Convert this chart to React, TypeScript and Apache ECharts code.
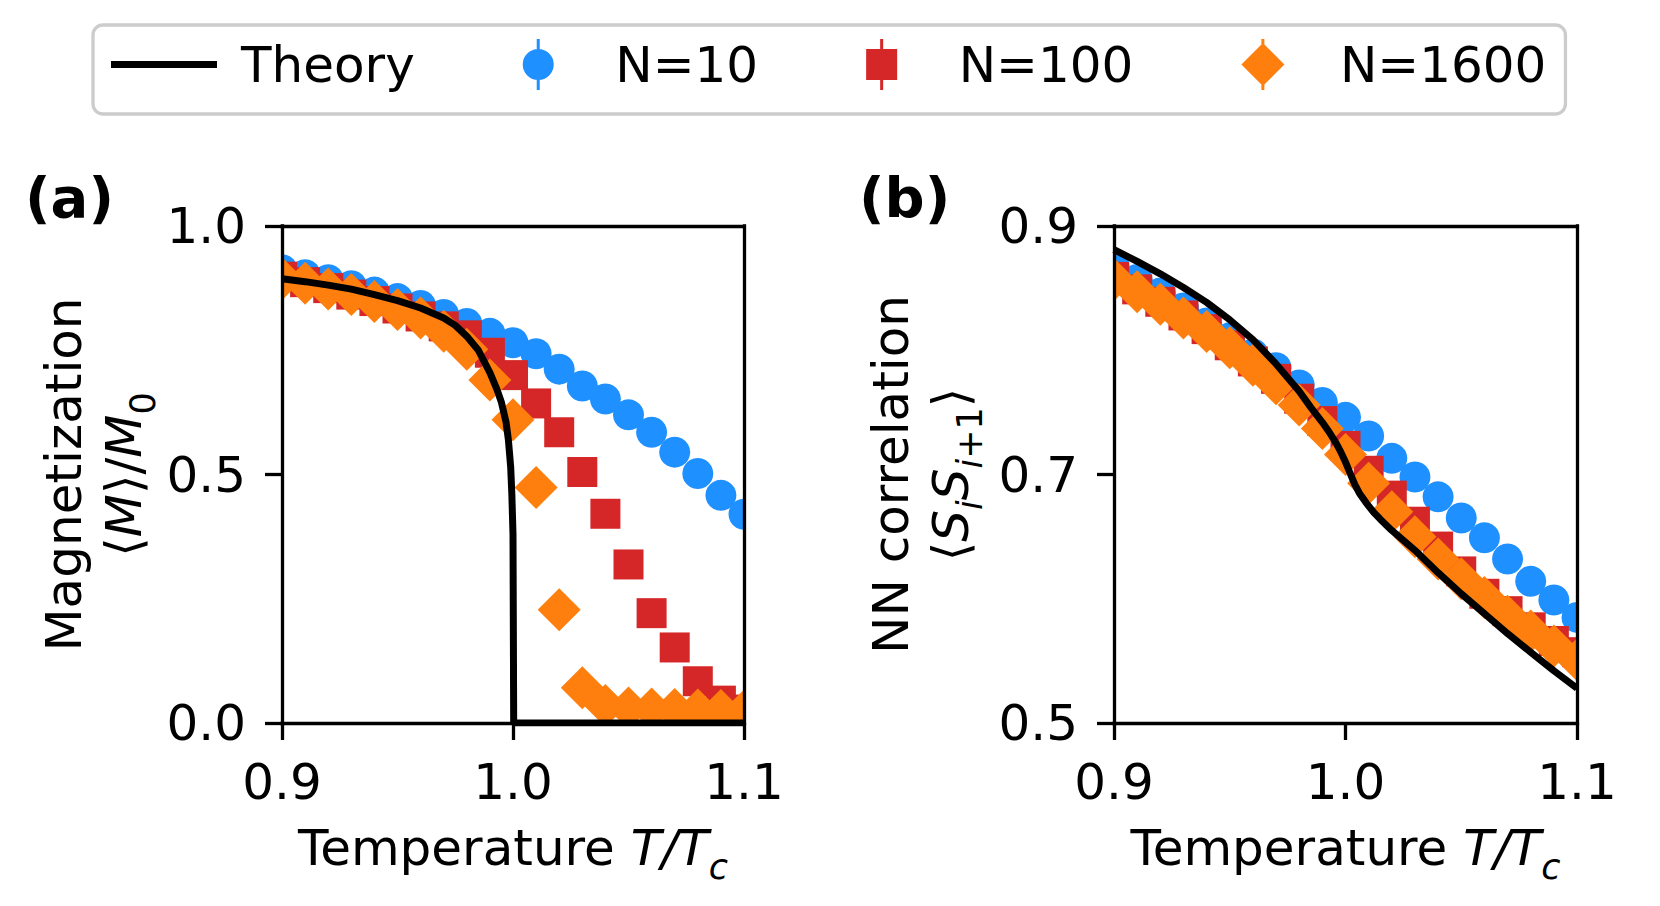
import React, { useEffect, useRef } from 'react';
import * as echarts from 'echarts';

// ---------------- data ----------------
const temps = [0.90, 0.91, 0.92, 0.93, 0.94, 0.95, 0.96, 0.97, 0.98, 0.99, 1.00, 1.01, 1.02, 1.03, 1.04, 1.05, 1.06, 1.07, 1.08, 1.09, 1.10];

// (a) magnetization <M>/M0
const magN10 = [0.912, 0.902, 0.892, 0.880, 0.867, 0.854, 0.840, 0.822, 0.804, 0.784, 0.765, 0.743, 0.712, 0.678, 0.652, 0.620, 0.585, 0.545, 0.502, 0.458, 0.420];
const magN100 = [0.898, 0.887, 0.875, 0.862, 0.849, 0.834, 0.818, 0.798, 0.780, 0.745, 0.700, 0.643, 0.585, 0.505, 0.421, 0.319, 0.221, 0.152, 0.084, 0.045, 0.027];
const magN1600 = [0.894, 0.885, 0.873, 0.862, 0.848, 0.832, 0.815, 0.788, 0.752, 0.690, 0.610, 0.474, 0.228, 0.071, 0.035, 0.030, 0.028, 0.027, 0.026, 0.025, 0.024];
const magTheoryT = [0.900, 0.910, 0.920, 0.930, 0.940, 0.950, 0.960, 0.970, 0.975, 0.980, 0.985, 0.990, 0.993, 0.995, 0.997, 0.998, 0.999, 0.9995, 1.000, 1.0003, 1.100];
const magTheoryV = [0.894, 0.888, 0.881, 0.873, 0.862, 0.850, 0.835, 0.815, 0.800, 0.778, 0.750, 0.705, 0.672, 0.645, 0.605, 0.570, 0.515, 0.460, 0.380, 0.000, 0.000];

// (b) nearest-neighbour correlation <S_i S_i+1>
const corrN10 = [0.868, 0.857, 0.846, 0.834, 0.822, 0.810, 0.797, 0.786, 0.772, 0.758, 0.746, 0.731, 0.713, 0.698, 0.682, 0.665, 0.649, 0.632, 0.614, 0.599, 0.585];
const corrN100 = [0.859, 0.849, 0.839, 0.828, 0.817, 0.804, 0.791, 0.777, 0.761, 0.743, 0.723, 0.703, 0.683, 0.662, 0.642, 0.622, 0.604, 0.590, 0.577, 0.566, 0.557];
const corrN1600 = [0.857, 0.847, 0.837, 0.826, 0.815, 0.802, 0.788, 0.773, 0.756, 0.737, 0.716, 0.693, 0.670, 0.650, 0.632, 0.616, 0.601, 0.586, 0.574, 0.562, 0.551];
const corrTheoryT = [0.900, 0.910, 0.920, 0.930, 0.940, 0.950, 0.960, 0.970, 0.980, 0.985, 0.990, 0.993, 0.996, 0.998, 1.000, 1.002, 1.004, 1.006, 1.009, 1.012, 1.015, 1.020, 1.030, 1.040, 1.050, 1.060, 1.070, 1.080, 1.090, 1.100];
const corrTheoryV = [0.881, 0.8715, 0.8615, 0.8505, 0.8385, 0.8245, 0.8085, 0.789, 0.767, 0.754, 0.742, 0.734, 0.725, 0.718, 0.710, 0.701, 0.692, 0.685, 0.677, 0.670, 0.664, 0.655, 0.639, 0.621, 0.604, 0.588, 0.572, 0.557, 0.542, 0.528];

// ticks
const tempTicks = [0.9, 1.0, 1.1];
const magTicks = [0.0, 0.5, 1.0];
const corrTicks = [0.5, 0.7, 0.9];

const seriesNames = ['Theory', 'N=10', 'N=100', 'N=1600'];

// ---------------- styling ----------------
const FONT = 'DejaVu Sans';
const BLUE = '#1e90ff';
const RED = '#d62728';
const ORANGE = '#ff7f0e';
const SPINE = 3.3;

const ICON_LINE = 'path://M0,0L106,0L106,7L0,7Z';
const ICON_CIRCLE = 'path://M14,0L17,0L17,51L14,51Z M0,25.5A15.5,15.5 0 1 1 31,25.5A15.5,15.5 0 1 1 0,25.5Z';
const ICON_SQUARE = 'path://M14,0L17,0L17,10L31,10L31,41L17,41L17,51L14,51L14,41L0,41L0,10L14,10Z';
const ICON_DIAMOND = 'path://M20,0L23,0L23,51L20,51Z M21.5,4L43,25.5L21.5,47L0,25.5Z';

const richStyles = {
  it: { fontFamily: FONT, fontSize: 50, fontStyle: 'italic', lineHeight: 60, color: '#000' },
  up: { fontFamily: FONT, fontSize: 50, lineHeight: 60, color: '#000' },
  sub: { fontFamily: FONT, fontSize: 35, lineHeight: 22, padding: [38, 0, 0, 0], color: '#000' },
  subit: { fontFamily: FONT, fontSize: 35, fontStyle: 'italic', lineHeight: 22, padding: [38, 0, 0, 0], color: '#000' },
};

const nameStyle = {
  fontFamily: FONT,
  fontSize: 50,
  color: '#000',
  lineHeight: 60,
  rich: richStyles,
};

const GRIDS = [
  { left: 282, top: 226, width: 462, height: 497 },
  { left: 1114, top: 226, width: 463, height: 497 },
];

function mainXAxis(gridIndex: number) {
  return {
    type: 'value',
    gridIndex,
    min: 0.9,
    max: 1.1,
    position: 'bottom',
    z: 10,
    name: 'Temperature {it|T/T}{subit|c}',
    nameLocation: 'middle',
    nameGap: 94,
    nameTextStyle: nameStyle,
    axisLine: { show: true, onZero: false, lineStyle: { color: '#000', width: SPINE, cap: 'square' } },
    axisTick: { show: true, inside: false, length: 17, customValues: tempTicks, lineStyle: { color: '#000', width: SPINE } },
    axisLabel: {
      show: true,
      customValues: tempTicks,
      margin: 34,
      fontFamily: FONT,
      fontSize: 50,
      color: '#000',
      formatter: (v: number) => v.toFixed(1),
    },
    splitLine: { show: false },
  };
}

function frameXAxis(gridIndex: number) {
  return {
    type: 'value',
    gridIndex,
    min: 0.9,
    max: 1.1,
    position: 'top',
    z: 10,
    axisLine: { show: true, onZero: false, lineStyle: { color: '#000', width: SPINE, cap: 'square' } },
    axisTick: { show: false },
    axisLabel: { show: false },
    splitLine: { show: false },
  };
}

function mainYAxis(gridIndex: number, min: number, max: number, ticks: number[], name: string, gap: number) {
  return {
    type: 'value',
    gridIndex,
    min,
    max,
    position: 'left',
    z: 10,
    name,
    nameLocation: 'middle',
    nameRotate: 90,
    nameGap: gap,
    nameTextStyle: nameStyle,
    axisLine: { show: true, onZero: false, lineStyle: { color: '#000', width: SPINE, cap: 'square' } },
    axisTick: { show: true, inside: false, length: 17, customValues: ticks, lineStyle: { color: '#000', width: SPINE } },
    axisLabel: {
      show: true,
      customValues: ticks,
      margin: 36,
      fontFamily: FONT,
      fontSize: 50,
      color: '#000',
      formatter: (v: number) => v.toFixed(1),
    },
    splitLine: { show: false },
  };
}

function frameYAxis(gridIndex: number, min: number, max: number) {
  return {
    type: 'value',
    gridIndex,
    min,
    max,
    position: 'right',
    z: 10,
    axisLine: { show: true, onZero: false, lineStyle: { color: '#000', width: SPINE, cap: 'square' } },
    axisTick: { show: false },
    axisLabel: { show: false },
    splitLine: { show: false },
  };
}

// markers drawn through the axes' scales, clipped to the plot area like matplotlib
function markerSeries(name: string, axisIndex: number, vals: number[], shape: string, color: string, z: number) {
  return {
    type: 'custom',
    name,
    xAxisIndex: axisIndex,
    yAxisIndex: axisIndex,
    data: temps.map((t, i) => [t, vals[i]]),
    encode: { x: 0, y: 1 },
    clip: true,
    silent: true,
    z,
    itemStyle: { color },
    renderItem: (_params: any, api: any) => {
      const p = api.coord([api.value(0), api.value(1)]);
      if (shape === 'circle') {
        return { type: 'circle', shape: { cx: p[0], cy: p[1], r: 15.5 }, style: { fill: color } };
      }
      if (shape === 'square') {
        return { type: 'rect', shape: { x: p[0] - 15, y: p[1] - 15, width: 30, height: 30 }, style: { fill: color } };
      }
      const h = 21.5;
      return {
        type: 'polygon',
        shape: { points: [[p[0], p[1] - h], [p[0] + h, p[1]], [p[0], p[1] + h], [p[0] - h, p[1]]] },
        style: { fill: color },
      };
    },
  };
}

function theorySeries(axisIndex: number, ts: number[], vs: number[]) {
  return {
    type: 'line',
    name: 'Theory',
    xAxisIndex: axisIndex,
    yAxisIndex: axisIndex,
    data: ts.map((t, i) => [t, vs[i]]),
    showSymbol: false,
    symbol: 'none',
    smooth: false,
    color: '#000',
    lineStyle: { color: '#000', width: 7 },
    clip: true,
    silent: true,
    z: 6,
  };
}

export default function App() {
  const ref = useRef<HTMLDivElement>(null);

  useEffect(() => {
    if (!ref.current) return;
    const chart = echarts.init(ref.current, undefined, { renderer: 'svg' });
    const option = {
      animation: false,
      backgroundColor: '#ffffff',
      textStyle: { fontFamily: FONT },
      title: [
        { text: '(a)', left: 25, top: 169, padding: 0, textStyle: { fontFamily: FONT, fontSize: 56, fontWeight: 'bold', color: '#000' } },
        { text: '(b)', left: 859, top: 169, padding: 0, textStyle: { fontFamily: FONT, fontSize: 56, fontWeight: 'bold', color: '#000' } },
      ],
      legend: {
        left: 93,
        top: 25,
        orient: 'horizontal',
        padding: [14, 19, 24, 18],
        itemWidth: 106,
        itemHeight: 51,
        itemGap: 108,
        borderColor: '#cccccc',
        borderWidth: 3.3,
        borderRadius: 10,
        backgroundColor: 'rgba(255,255,255,0.8)',
        selectedMode: false,
        textStyle: { fontFamily: FONT, fontSize: 50, color: '#000', padding: [0, 0, 0, 19] },
        data: [
          { name: seriesNames[0], icon: ICON_LINE, itemStyle: { color: '#000' } },
          { name: seriesNames[1], icon: ICON_CIRCLE, itemStyle: { color: BLUE } },
          { name: seriesNames[2], icon: ICON_SQUARE, itemStyle: { color: RED } },
          { name: seriesNames[3], icon: ICON_DIAMOND, itemStyle: { color: ORANGE } },
        ],
      },
      grid: GRIDS.map((g) => ({ ...g, show: false, containLabel: false })),
      xAxis: [mainXAxis(0), frameXAxis(0), mainXAxis(1), frameXAxis(1)],
      yAxis: [
        mainYAxis(0, 0, 1, magTicks, 'Magnetization\n⟨{it|M}⟩/{it|M}{sub|0}', 128),
        frameYAxis(0, 0, 1),
        mainYAxis(1, 0.5, 0.9, corrTicks, 'NN correlation\n⟨{it|S}{subit|i}{it|S}{subit|i}{sub|+1}⟩', 133),
        frameYAxis(1, 0.5, 0.9),
      ],
      series: [
        markerSeries(seriesNames[1], 0, magN10, 'circle', BLUE, 2),
        markerSeries(seriesNames[2], 0, magN100, 'square', RED, 3),
        markerSeries(seriesNames[3], 0, magN1600, 'diamond', ORANGE, 4),
        theorySeries(0, magTheoryT, magTheoryV),
        markerSeries(seriesNames[1], 2, corrN10, 'circle', BLUE, 2),
        markerSeries(seriesNames[2], 2, corrN100, 'square', RED, 3),
        markerSeries(seriesNames[3], 2, corrN1600, 'diamond', ORANGE, 4),
        theorySeries(2, corrTheoryT, corrTheoryV),
      ],
    };
    chart.setOption(option as any);
    return () => {
      chart.dispose();
    };
  }, []);

  return (
    <div
      ref={ref}
      style={{ position: 'absolute', left: 0, top: 0, width: 1660, height: 906, background: '#fff' }}
    />
  );
}
